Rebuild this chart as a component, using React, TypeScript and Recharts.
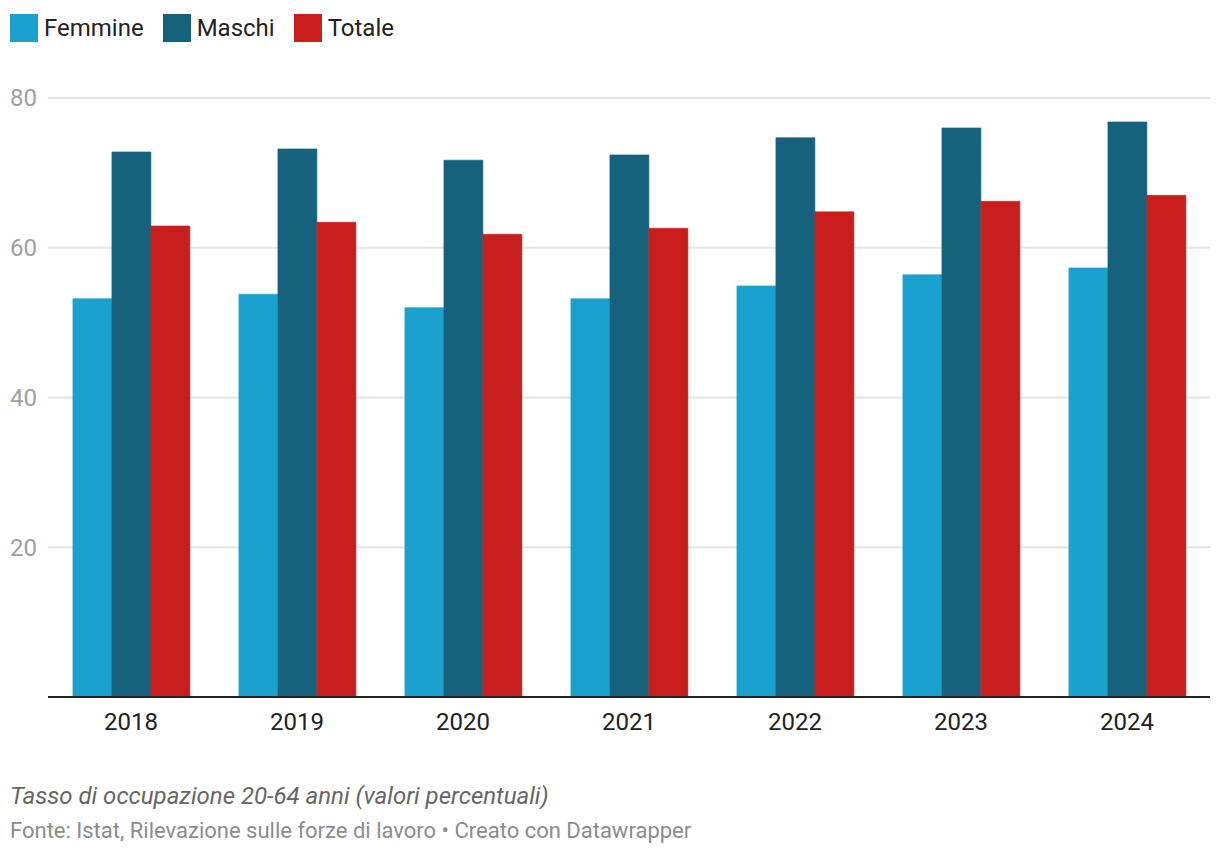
import React from "react";
import { BarChart, Bar, XAxis, YAxis, CartesianGrid } from "recharts";

const years = ["2018", "2019", "2020", "2021", "2022", "2023", "2024"];
const femmine = [53.2, 53.8, 52.0, 53.2, 54.9, 56.4, 57.3];
const maschi = [72.8, 73.2, 71.7, 72.4, 74.7, 76.0, 76.8];
const totale = [62.9, 63.4, 61.8, 62.6, 64.8, 66.2, 67.0];
const yTicks = [0, 20, 40, 60, 80];

const series = [
  { key: "femmine", name: "Femmine", color: "#1aa1cd" },
  { key: "maschi", name: "Maschi", color: "#16627c" },
  { key: "totale", name: "Totale", color: "#c81e1e" },
];

const data = years.map((year, i) => ({
  year,
  femmine: femmine[i],
  maschi: maschi[i],
  totale: totale[i],
}));

const font = "Roboto, 'Noto Sans', sans-serif";

function YTick({ y, payload }: any) {
  if (payload.value === 0) return null;
  return (
    <text x={10} y={y} dy="0.35em" fill="#a0a0a0" fontSize={24} fontFamily={font}>
      {payload.value}
    </text>
  );
}

export default function App() {
  return (
    <div
      style={{
        position: "absolute",
        left: 0,
        top: 0,
        width: 1220,
        height: 858,
        background: "#fff",
        fontFamily: font,
      }}
    >
      <div style={{ position: "absolute", left: 10, top: 14, display: "flex", alignItems: "center" }}>
        {series.map((s) => (
          <div key={s.key} style={{ display: "flex", alignItems: "center", marginRight: 19 }}>
            <div style={{ width: 28, height: 28, background: s.color, marginRight: 6 }} />
            <span style={{ fontSize: 24, color: "#222", lineHeight: "28px" }}>{s.name}</span>
          </div>
        ))}
      </div>

      <div style={{ position: "absolute", left: 0, top: 0 }}>
        <BarChart
          width={1210}
          height={858}
          data={data}
          margin={{ top: 98, right: 0, bottom: 121, left: 0 }}
          barCategoryGap="15%"
          barGap={0}
        >
          <CartesianGrid vertical={false} stroke="#e3e3e3" strokeWidth={2} />
          <YAxis
            width={48}
            domain={[0, 80]}
            ticks={yTicks}
            axisLine={false}
            tickLine={false}
            tick={<YTick />}
          />
          <XAxis
            dataKey="year"
            height={40}
            axisLine={{ stroke: "#222", strokeWidth: 2 }}
            tickLine={false}
            tick={{ fill: "#222", fontSize: 24, fontFamily: font }}
            dy={8}
          />
          {series.map((s) => (
            <Bar
              key={s.key}
              dataKey={s.key}
              name={s.name}
              fill={s.color}
              stroke={s.color}
              strokeWidth={0.6}
              isAnimationActive={false}
            />
          ))}
        </BarChart>
      </div>

      <div
        style={{
          position: "absolute",
          left: 10,
          top: 782,
          fontSize: 24,
          fontStyle: "italic",
          color: "#666",
        }}
      >
        Tasso di occupazione 20-64 anni (valori percentuali)
      </div>
      <div style={{ position: "absolute", left: 10, top: 818, fontSize: 22, color: "#8c8c8c" }}>
        Fonte: Istat, Rilevazione sulle forze di lavoro • Creato con Datawrapper
      </div>
    </div>
  );
}
